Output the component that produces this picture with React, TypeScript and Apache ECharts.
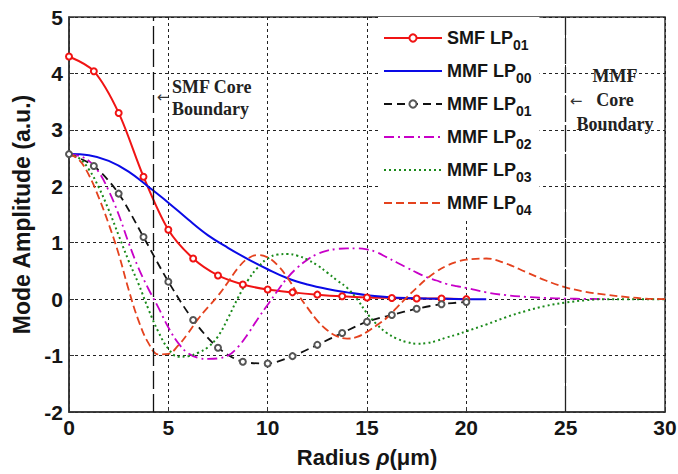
import React, { useEffect, useRef } from "react";
import * as echarts from "echarts";

// Radii (µm) at which each mode profile is sampled
const radiusMarked = [0, 1.25, 2.5, 3.75, 5, 6.25, 7.5, 8.75, 10, 11.25, 12.5, 13.75, 15, 16.25, 17.5, 18.75, 20];
const radiusUnit = [0, 1, 2, 3, 4, 5, 6, 7, 8, 9, 10, 11, 12, 13, 14, 15, 16, 17, 18, 19, 20, 21];
const radiusHalf = [
  0, 0.5, 1, 1.5, 2, 2.5, 3, 3.5, 4, 4.5, 5, 5.5, 6, 6.5, 7, 7.5, 8, 8.5, 9, 9.5,
  10, 10.5, 11, 11.5, 12, 12.5, 13, 13.5, 14, 14.5, 15, 15.5, 16, 16.5, 17, 17.5, 18, 18.5, 19, 19.5,
  20, 21, 22, 23, 24, 25, 26, 27, 28, 29, 30,
];

// Mode amplitudes (a.u.)
const smfLp01 = [4.3, 4.04, 3.3, 2.17, 1.23, 0.72, 0.42, 0.26, 0.17, 0.12, 0.08, 0.05, 0.03, 0.02, 0.01, 0.01, 0.0];
const mmfLp00 = [2.57, 2.55, 2.45, 2.26, 1.99, 1.71, 1.41, 1.13, 0.91, 0.71, 0.53, 0.37, 0.26, 0.18, 0.12, 0.07, 0.04, 0.02, 0.01, 0.005, 0, 0];
const mmfLp01 = [2.57, 2.36, 1.87, 1.1, 0.31, -0.37, -0.86, -1.11, -1.14, -1.01, -0.81, -0.6, -0.4, -0.28, -0.17, -0.09, -0.05];
const mmfLp02 = [
  2.57, 2.54, 2.45, 2.25, 1.92, 1.5, 1.0, 0.55, 0.18, -0.15, -0.5, -0.78, -0.96, -1.04, -1.06, -1.05, -1.0, -0.85, -0.62, -0.35,
  -0.1, 0.15, 0.38, 0.56, 0.7, 0.8, 0.86, 0.89, 0.9, 0.9, 0.88, 0.83, 0.74, 0.65, 0.56, 0.47, 0.39, 0.33, 0.27, 0.23,
  0.2, 0.12, 0.07, 0.04, 0.02, 0.01, 0.005, 0,
];
const mmfLp03 = [
  2.57, 2.5, 2.3, 1.98, 1.58, 1.13, 0.68, 0.27, -0.18, -0.58, -0.88, -1.02, -1.01, -0.95, -0.85, -0.66, -0.34, 0.02, 0.33, 0.56,
  0.72, 0.79, 0.8, 0.77, 0.7, 0.6, 0.47, 0.33, 0.2, 0.0, -0.25, -0.45, -0.6, -0.7, -0.76, -0.79, -0.78, -0.74, -0.68, -0.63,
  -0.57, -0.45, -0.32, -0.21, -0.12, -0.06, -0.02, 0, 0, 0, 0,
];
const mmfLp04 = [
  2.57, 2.47, 2.2, 1.8, 1.33, 0.8, 0.17, -0.38, -0.78, -0.98, -0.97, -0.82, -0.6, -0.35, -0.14, 0.06, 0.3, 0.55, 0.72, 0.78,
  0.74, 0.6, 0.38, 0.1, -0.15, -0.38, -0.55, -0.66, -0.7, -0.67, -0.58, -0.46, -0.33, -0.15, 0.03, 0.2, 0.36, 0.49, 0.59, 0.66,
  0.7, 0.72, 0.63, 0.48, 0.33, 0.21, 0.13, 0.08, 0.04, 0.01, 0,
];

// Core radii of the two fibres (µm)
const smfCoreRadius = 4.24;
const mmfCoreRadius = 25;

const seriesNames = ["SMF LP01", "MMF LP00", "MMF LP01", "MMF LP02", "MMF LP03", "MMF LP04"];
const markedSeries = ["SMF LP01", "MMF LP01"];

const pair = (xs: number[], ys: number[]) => ys.map((y, i) => [xs[i], y]);

const SANS = '"Liberation Sans", Arial, sans-serif';
const SERIF = '"Liberation Serif", "Times New Roman", serif';

export default function App() {
  const ref = useRef<HTMLDivElement>(null);

  useEffect(() => {
    if (!ref.current) return;
    const chart = echarts.init(ref.current, undefined, { renderer: "svg" });

    const line = (
      name: string,
      data: number[][],
      color: string,
      type: any,
      width: number,
      marker: boolean,
      smooth: number
    ) => ({
      name,
      type: "line",
      data,
      smooth,
      symbol: marker ? "emptyCircle" : "none",
      symbolSize: 6,
      showSymbol: marker,
      itemStyle: { color, borderWidth: 1 },
      lineStyle: { color, width, type },
      emphasis: { disabled: true },
      silent: true,
    });

    const series: any[] = [
      {
        ...line(seriesNames[0], pair(radiusMarked, smfLp01), "#f01414", "solid", 2, true, 0.3),
        markLine: {
          silent: true,
          symbol: ["none", "none"],
          label: { show: false },
          data: [
            { xAxis: smfCoreRadius, lineStyle: { color: "#111", width: 1.3, type: [18, 5] } },
            { xAxis: mmfCoreRadius, lineStyle: { color: "#222", width: 1.3, type: [26, 3] } },
          ],
        },
      },
      line(seriesNames[1], pair(radiusUnit, mmfLp00), "#0a0ae6", "solid", 2, false, 0.4),
      {
        ...line(seriesNames[2], pair(radiusMarked, mmfLp01), "#111111", [8, 5], 1.8, true, 0.3),
        itemStyle: { color: "#555", borderWidth: 1 },
      },
      line(seriesNames[3], pair(radiusHalf, mmfLp02), "#c800c8", [10, 4, 2, 4], 1.8, false, 0.4),
      line(seriesNames[4], pair(radiusHalf, mmfLp03), "#1a8a1a", [2, 3], 2, false, 0.4),
      line(seriesNames[5], pair(radiusHalf, mmfLp04), "#e4421e", [8, 4], 1.8, false, 0.4),
    ];

    const axisText = { fontFamily: SANS, fontWeight: "bold", fontSize: 21, color: "#151515" };
    const split = { show: true, lineStyle: { type: [3, 3], color: "#222", width: 1 } };
    const arrowStyle = {
      text: "←",
      font: `15px "DejaVu Sans", sans-serif`,
      fill: "#333",
      textAlign: "center",
      textVerticalAlign: "middle",
    };

    chart.setOption({
      animation: false,
      backgroundColor: "#fff",
      grid: {
        left: 69,
        right: 13,
        top: 17,
        bottom: 62,
        containLabel: false,
        outerBoundsMode: "none",
        show: true,
        borderColor: "#333",
        borderWidth: 1.5,
      },
      xAxis: {
        type: "value",
        min: 0,
        max: 30,
        interval: 5,
        name: "{a|Radius }{b|ρ}{a|(μm)}",
        nameLocation: "middle",
        nameGap: 34,
        nameTextStyle: {
          rich: {
            a: { fontFamily: SANS, fontWeight: "bold", fontSize: 22, color: "#151515" },
            b: { fontFamily: SANS, fontWeight: "bold", fontStyle: "italic", fontSize: 22, color: "#151515" },
          },
        },
        axisLine: { show: true, onZero: false, lineStyle: { color: "#333", width: 1.5 } },
        axisTick: { show: true, inside: true, length: 5, lineStyle: { color: "#333" } },
        axisLabel: { ...axisText, margin: 5 },
        splitLine: split,
      },
      yAxis: {
        type: "value",
        min: -2,
        max: 5,
        interval: 1,
        name: "Mode Amplitude (a.u.)",
        nameLocation: "middle",
        nameGap: 35,
        nameTextStyle: { fontFamily: SANS, fontWeight: "bold", fontSize: 23, color: "#151515" },
        axisLine: { show: true, onZero: false, lineStyle: { color: "#333", width: 1.5 } },
        axisTick: { show: true, inside: true, length: 5, lineStyle: { color: "#333" } },
        axisLabel: { ...axisText, margin: 6 },
        splitLine: split,
      },
      legend: {
        data: seriesNames.map((name) =>
          markedSeries.includes(name)
            ? { name }
            : { name, itemStyle: { opacity: 0, color: "rgba(0,0,0,0)", borderColor: "rgba(0,0,0,0)" } }
        ),
        orient: "vertical",
        left: 378,
        top: 17,
        padding: [7, 8, 3, 5],
        itemWidth: 58,
        itemHeight: 9,
        itemGap: 5,
        backgroundColor: "#fff",
        selectedMode: false,
        formatter: (name: string) => `{m|${name.slice(0, -2)}}{s|${name.slice(-2)}}`,
        textStyle: {
          rich: {
            m: { fontFamily: SANS, fontWeight: "bold", fontSize: 18, lineHeight: 30, color: "#151515" },
            s: { fontFamily: SANS, fontWeight: "bold", fontSize: 14, lineHeight: 16, padding: [14, 0, 0, 0], color: "#151515" },
          },
        },
      },
      graphic: [
        {
          type: "text",
          x: 172,
          y: 97.5,
          silent: true,
          style: {
            text: "SMF Core\nBoundary",
            font: `bold 18px ${SERIF}`,
            fill: "#222",
            textAlign: "left",
            textVerticalAlign: "middle",
            lineHeight: 22,
          },
        },
        { type: "text", x: 163, y: 97, silent: true, style: arrowStyle },
        {
          type: "text",
          x: 615,
          y: 100,
          silent: true,
          style: {
            text: "MMF\nCore\nBoundary",
            font: `bold 18px ${SERIF}`,
            fill: "#222",
            textAlign: "center",
            textVerticalAlign: "middle",
            lineHeight: 24,
          },
        },
        { type: "text", x: 576, y: 101, silent: true, style: arrowStyle },
      ],
      series,
    });

    return () => chart.dispose();
  }, []);

  return <div ref={ref} style={{ position: "fixed", left: 0, top: 0, width: 678, height: 474 }} />;
}
